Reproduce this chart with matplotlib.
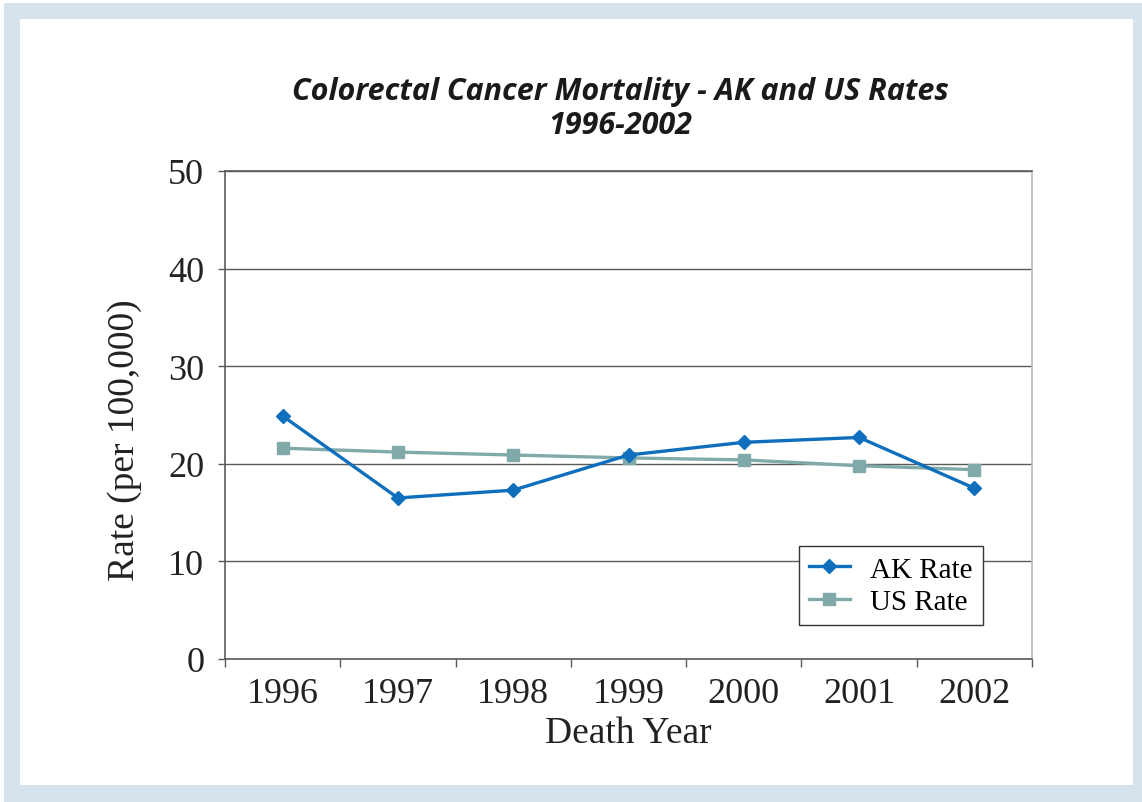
import matplotlib
matplotlib.use("Agg")
import matplotlib.pyplot as plt
from matplotlib.patches import Rectangle
from matplotlib.ticker import FixedLocator

years = ["1996", "1997", "1998", "1999", "2000", "2001", "2002"]
ak_rate = [24.9, 16.5, 17.3, 20.9, 22.2, 22.7, 17.5]
us_rate = [21.6, 21.2, 20.9, 20.6, 20.4, 19.8, 19.4]
y_ticks = [0, 10, 20, 30, 40, 50]

W, H = 1142, 803
fig = plt.figure(figsize=(W / 100, H / 100), dpi=100)
fig.patch.set_facecolor("white")

# light blue frame around the white panel
frame = "#d6e2ec"
fig.patches.append(Rectangle((4 / W, 0), 1 - 4 / W, 1 - 4 / H,
                             transform=fig.transFigure, facecolor=frame,
                             edgecolor="none", zorder=-10))
fig.patches.append(Rectangle((20 / W, (H - 786) / H), (1133 - 20) / W, (786 - 20) / H,
                             transform=fig.transFigure, facecolor="white",
                             edgecolor="none", zorder=-9))

ax = fig.add_axes([225 / W, (H - 660) / H, (1032 - 225) / W, (660 - 172) / H])
ax.set_facecolor("none")
ax.set_zorder(1)

x = list(range(len(years)))
ax.plot(x, us_rate, color="#80aaaa", lw=2.4, marker="s", ms=8.5,
        label="US Rate", zorder=3)
ax.plot(x, ak_rate, color="#0f6fbd", lw=2.4, marker="D", ms=7.5,
        label="AK Rate", zorder=4)

ax.set_xlim(-0.5, len(years) - 0.5)
ax.set_ylim(0, 50)
ax.set_yticks(y_ticks)
ax.yaxis.grid(True, color="#5a5a5a", lw=1.0)
ax.set_axisbelow(True)

serif = ["Liberation Serif", "DejaVu Serif"]
ax.set_xticks(x)
ax.set_xticklabels(years, fontfamily=serif, fontsize=26, color="#222222")
ax.xaxis.set_minor_locator(FixedLocator([i - 0.5 for i in range(len(years) + 1)]))
ax.tick_params(axis="x", which="major", length=0, pad=13)
ax.tick_params(axis="x", which="minor", length=6, width=1.0, color="#5a5a5a",
               direction="out")
ax.set_yticklabels([str(v) for v in y_ticks], fontfamily=serif, fontsize=26,
                   color="#222222")
ax.tick_params(axis="y", length=5, width=1.0, color="#5a5a5a", pad=10)

for side in ("left", "bottom", "top"):
    ax.spines[side].set_color("#5a5a5a")
    ax.spines[side].set_linewidth(1.2)
ax.spines["right"].set_color("#b4bcc4")
ax.spines["right"].set_linewidth(1.2)

ax.set_xlabel("Death Year", fontfamily=serif, fontsize=27, color="#222222",
              labelpad=4)
ax.set_ylabel("Rate (per 100,000)", fontfamily=serif, fontsize=27,
              color="#222222")
ax.yaxis.set_label_coords(-0.103, 0.45)

handles, labels = ax.get_legend_handles_labels()
leg = ax.legend(handles[::-1], labels[::-1], loc="lower right",
                bbox_to_anchor=((983 - 225) / (1032 - 225), (660 - 626) / (660 - 172)),
                prop={"family": serif, "size": 21}, frameon=True, fancybox=False,
                edgecolor="#333333", framealpha=1, handlelength=1.4,
                borderpad=0.35, labelspacing=0.2, handletextpad=0.7,
                borderaxespad=0)
leg.get_frame().set_linewidth(1.0)

fig.text(620 / W, (H - 92) / H, "Colorectal Cancer Mortality - AK and US Rates",
         ha="center", va="center", fontsize=22, fontweight="bold",
         fontstyle="italic", family=["Open Sans", "DejaVu Sans"], color="#1a1a1a")
fig.text(620 / W, (H - 126) / H, "1996-2002",
         ha="center", va="center", fontsize=22, fontweight="bold",
         fontstyle="italic", family=["Open Sans", "DejaVu Sans"], color="#1a1a1a")

fig.savefig("out.png", dpi=100)
